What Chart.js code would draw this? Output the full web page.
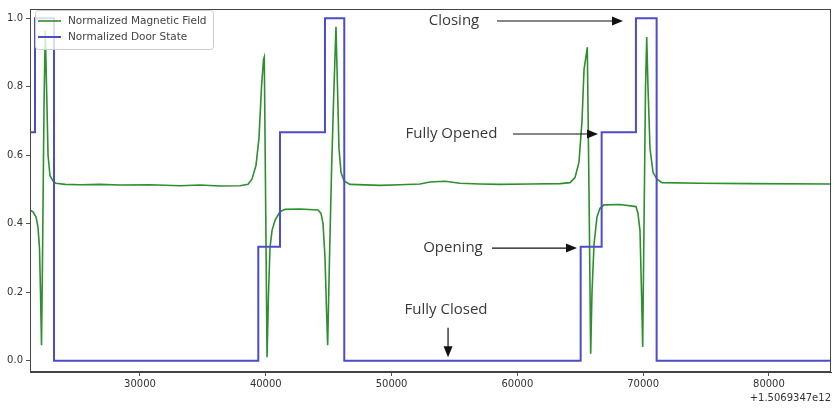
<!DOCTYPE html>
<html>
<head>
<meta charset="utf-8">
<script src="https://cdn.jsdelivr.net/npm/chart.js@4"></script>
<style>
  html, body { margin: 0; padding: 0; background: #fff; }
  #wrap { width: 834px; height: 408px; }
</style>
</head>
<body>
<div id="wrap"><canvas id="c" width="834" height="408"></canvas></div>
<script>
// Time offsets (ms, relative to 1.5069347e12) and normalized magnetic field readings
const fieldX = [
  21255, 21490, 21730, 21890, 22010, 22090, 22170, 22250, 22370, 22470,
  22570, 22690, 22845, 23085, 23320, 24040, 25230, 26820, 28410, 30795,
  33180, 34770, 36360, 37950, 38590, 38900, 39220, 39460, 39660, 39820,
  39880, 39980, 40100, 40220, 40335, 40495, 40730, 41130, 41530, 42720,
  44150, 44390, 44550, 44710, 44825, 44920, 45065, 45225, 45380, 45580,
  45700, 45820, 45980, 46220, 46695, 49080, 50670, 52260, 53055, 54250,
  55440, 57030, 58620, 61005, 63390, 64185, 64585, 64900, 65140, 65300,
  65560, 65695, 65830, 65935, 66095, 66330, 66570, 66890, 68160, 69430,
  69590, 69750, 69870, 69965, 70070, 70190, 70285, 70385, 70545, 70785,
  71100, 71500, 74520, 78495, 84935
];
const fieldY = [
  0.44, 0.435, 0.42, 0.39, 0.33, 0.2, 0.045, 0.3, 0.75, 0.965,
  0.8, 0.6, 0.54, 0.525, 0.518, 0.515, 0.514, 0.515, 0.513, 0.514,
  0.511, 0.513, 0.51, 0.511, 0.515, 0.53, 0.57, 0.65, 0.8, 0.88,
  0.887, 0.5, 0.01, 0.2, 0.33, 0.38, 0.41, 0.435, 0.442, 0.443,
  0.44, 0.43, 0.4, 0.3, 0.15, 0.045, 0.3, 0.55, 0.75, 0.975,
  0.8, 0.62, 0.55, 0.525, 0.515, 0.512, 0.514, 0.516, 0.522, 0.524,
  0.518, 0.516, 0.515, 0.516, 0.517, 0.52, 0.535, 0.58, 0.7, 0.85,
  0.915, 0.5, 0.02, 0.2, 0.34, 0.42, 0.445, 0.455, 0.456, 0.45,
  0.43, 0.38, 0.2, 0.04, 0.4, 0.8, 0.945, 0.8, 0.62, 0.55,
  0.53, 0.52, 0.518, 0.517, 0.516
];

// Door state change points: each value holds until the next change time
const doorX = [21255, 21653, 23164, 39404, 41129, 44706, 46240, 65032, 66701, 69428, 71073, 84935];
const doorY = [0.667, 1, 0, 0.333, 0.667, 1, 0, 0.333, 0.667, 1, 0, 0];

const xTicks = [30000, 40000, 50000, 60000, 70000, 80000];
const yTicks = [0, 0.2, 0.4, 0.6, 0.8, 1.0];
const xOffsetLabel = '+1.5069347e12';
const seriesNames = ['Normalized Magnetic Field', 'Normalized Door State'];
const seriesColors = ['#2e8f2e', '#4c4cc8'];

// State callouts: label anchor and arrow (data units)
const callouts = [
  { text: 'Closing',      tx: 54960, ty: 0.992, x0: 58380, y0: 0.992, x1: 68400, y1: 0.992 },
  { text: 'Fully Opened', tx: 54760, ty: 0.662, x0: 59650, y0: 0.662, x1: 66410, y1: 0.662 },
  { text: 'Opening',      tx: 54880, ty: 0.329, x0: 57980, y0: 0.329, x1: 64740, y1: 0.329 },
  { text: 'Fully Closed', tx: 54330, ty: 0.148, x0: 54490, y0: 0.096, x1: 54490, y1: 0.010 }
];

const tickFont = { family: '"DejaVu Sans"', size: 10 };
const tickColor = '#333';

function drawArrow(ctx, ax, ay, bx, by) {
  const ang = Math.atan2(by - ay, bx - ax);
  const len = 11, half = 4.5;
  ctx.beginPath();
  ctx.moveTo(ax, ay);
  ctx.lineTo(bx - Math.cos(ang) * len * 0.8, by - Math.sin(ang) * len * 0.8);
  ctx.stroke();
  ctx.beginPath();
  ctx.moveTo(bx, by);
  ctx.lineTo(bx - Math.cos(ang) * len + Math.sin(ang) * half, by - Math.sin(ang) * len - Math.cos(ang) * half);
  ctx.lineTo(bx - Math.cos(ang) * len - Math.sin(ang) * half, by - Math.sin(ang) * len + Math.cos(ang) * half);
  ctx.closePath();
  ctx.fill();
}

const decorations = {
  id: 'decorations',
  afterDatasetsDraw(chart) {
    const { ctx, chartArea: a, scales: { x, y } } = chart;
    ctx.save();

    // frame
    ctx.strokeStyle = '#444';
    ctx.lineWidth = 1;
    ctx.strokeRect(a.left + 0.5, a.top + 0.5, a.right - a.left - 1, a.bottom - a.top - 1);

    // callouts
    ctx.fillStyle = '#3a3a3a';
    ctx.font = '15px "Open Sans"';
    ctx.textAlign = 'center';
    ctx.textBaseline = 'middle';
    callouts.forEach(c => {
      ctx.fillText(c.text, x.getPixelForValue(c.tx), y.getPixelForValue(c.ty));
    });
    ctx.strokeStyle = '#111';
    ctx.fillStyle = '#111';
    ctx.lineWidth = 1.2;
    callouts.forEach(c => {
      drawArrow(ctx, x.getPixelForValue(c.x0), y.getPixelForValue(c.y0),
                x.getPixelForValue(c.x1), y.getPixelForValue(c.y1));
    });

    // legend
    const lx = a.left + 5, ly = a.top + 1, lw = 178, lh = 39;
    ctx.fillStyle = 'rgba(255,255,255,0.8)';
    ctx.strokeStyle = '#cccccc';
    ctx.lineWidth = 1;
    ctx.beginPath();
    ctx.roundRect(lx + 0.5, ly + 0.5, lw, lh, 3);
    ctx.fill();
    ctx.stroke();
    ctx.font = '10.5px "DejaVu Sans"';
    ctx.textAlign = 'left';
    ctx.textBaseline = 'middle';
    seriesNames.forEach((name, i) => {
      const yy = ly + 11 + i * 16;
      ctx.strokeStyle = seriesColors[i];
      ctx.lineWidth = i === 0 ? 1.6 : 2;
      ctx.beginPath();
      ctx.moveTo(lx + 3, yy);
      ctx.lineTo(lx + 26, yy);
      ctx.stroke();
      ctx.fillStyle = '#444';
      ctx.fillText(name, lx + 33, yy);
    });

    // offset text
    ctx.font = '10px "DejaVu Sans"';
    ctx.textAlign = 'right';
    ctx.fillStyle = tickColor;
    ctx.fillText(xOffsetLabel, a.right, 398);
    ctx.restore();
  }
};

new Chart(document.getElementById('c'), {
  type: 'line',
  data: {
    datasets: [
      {
        label: seriesNames[0],
        data: fieldX.map((v, i) => ({ x: v, y: fieldY[i] })),
        borderColor: seriesColors[0],
        borderWidth: 1.6,
        pointRadius: 0,
        tension: 0,
        order: 1
      },
      {
        label: seriesNames[1],
        data: doorX.map((v, i) => ({ x: v, y: doorY[i] })),
        borderColor: seriesColors[1],
        borderWidth: 2,
        pointRadius: 0,
        stepped: 'before',
        order: 0
      }
    ]
  },
  options: {
    responsive: false,
    animation: false,
    devicePixelRatio: 1,
    layout: { padding: { top: 3, right: 3, left: 0, bottom: 0 } },
    plugins: { legend: { display: false }, tooltip: { enabled: false } },
    scales: {
      x: {
        type: 'linear',
        min: 21255,
        max: 84935,
        afterBuildTicks: s => { s.ticks = xTicks.map(v => ({ value: v })); },
        afterFit: s => { s.height = 36; },
        grid: { drawOnChartArea: false, drawTicks: true, tickLength: 4, color: '#555' },
        border: { display: true, color: '#444', width: 1 },
        ticks: {
          autoSkip: false, maxRotation: 0, padding: 2,
          font: tickFont, color: tickColor,
          callback: v => String(v)
        }
      },
      y: {
        min: -0.033,
        max: 1.027,
        afterBuildTicks: s => { s.ticks = yTicks.map(v => ({ value: v })); },
        afterFit: s => { s.width = 30; },
        grid: { drawOnChartArea: false, drawTicks: true, tickLength: 4, color: '#555' },
        border: { display: true, color: '#444', width: 1 },
        ticks: {
          autoSkip: false, padding: 3,
          font: tickFont, color: tickColor,
          callback: v => Number(v).toFixed(1)
        }
      }
    }
  },
  plugins: [decorations]
});
</script>
</body>
</html>
